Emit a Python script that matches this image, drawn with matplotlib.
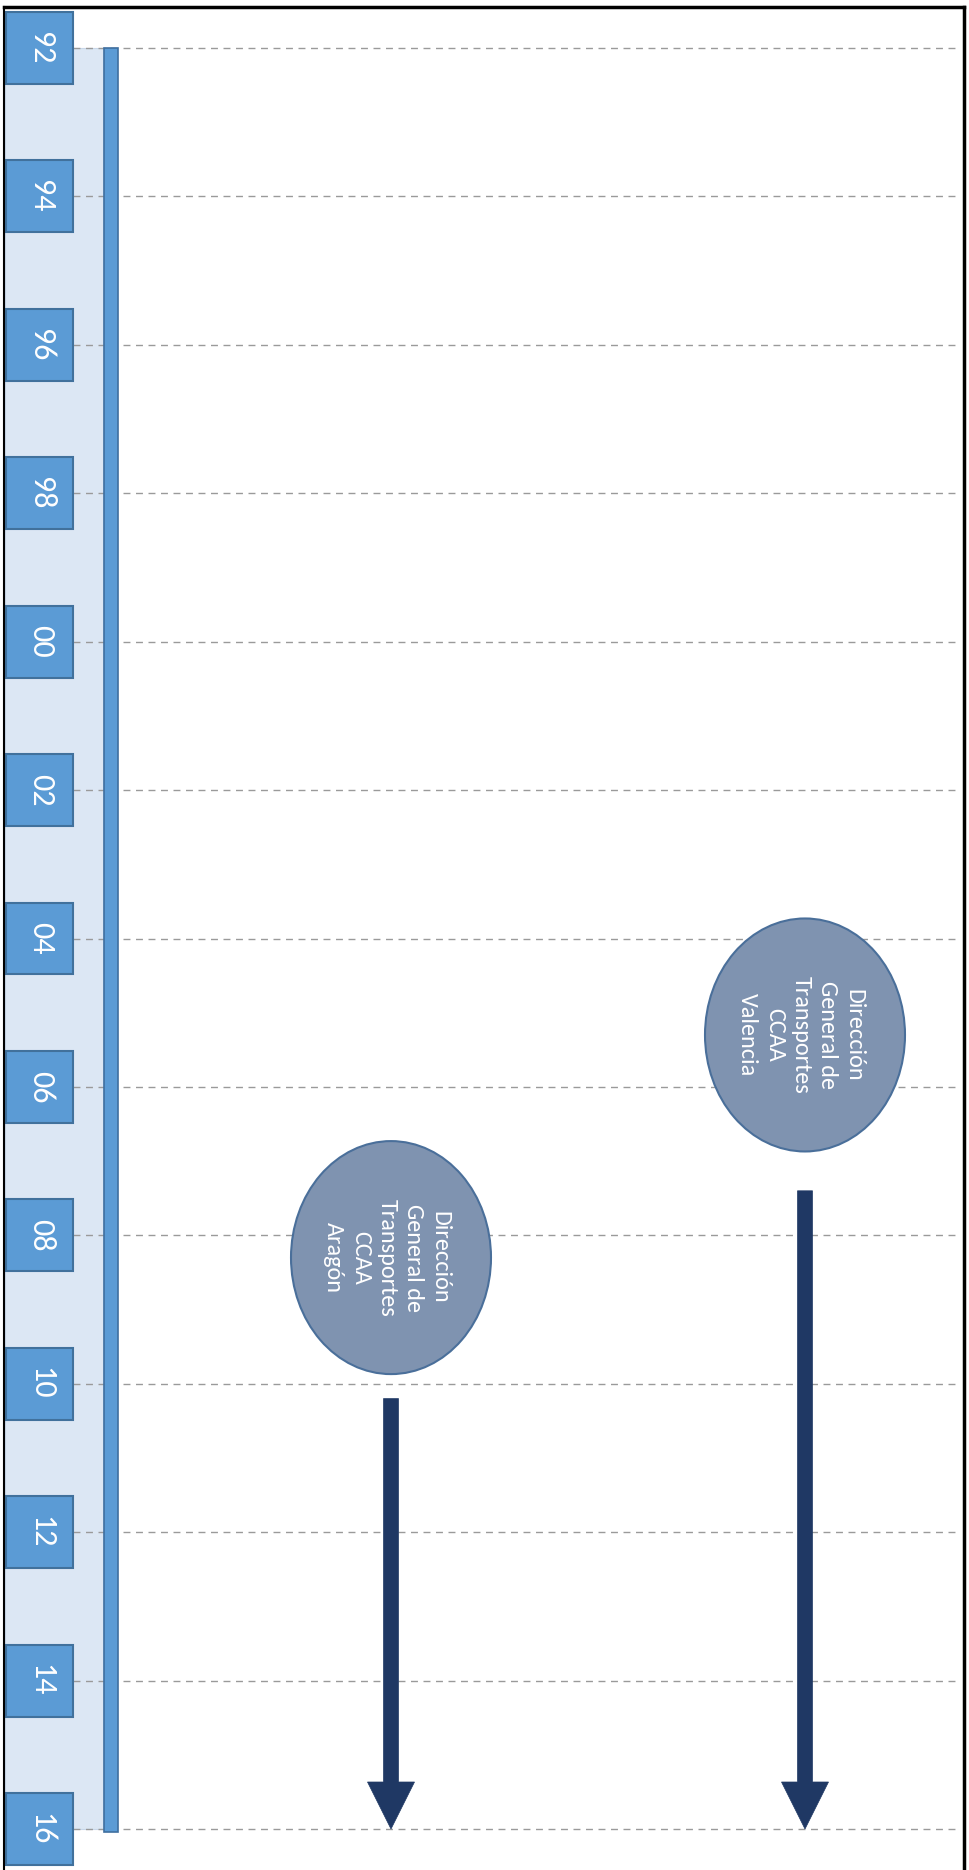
import matplotlib
matplotlib.use("Agg")
import matplotlib.pyplot as plt
from matplotlib.patches import Rectangle, Ellipse, FancyArrow

# ---- data ----
years = [1992, 1994, 1996, 1998, 2000, 2002, 2004, 2006, 2008, 2010, 2012, 2014, 2016]
year_labels = ["92", "94", "96", "98", "00", "02", "04", "06", "08", "10", "12", "14", "16"]
entities = ["Dirección\nGeneral de\nTransportes\nCCAA\nAragón",
            "Dirección\nGeneral de\nTransportes\nCCAA\nValencia"]
entity_year = [2008.3, 2005.3]        # centre of the ellipse (year)
arrow_start = [2010.2, 2007.4]        # start of the continuing arrow (year)
arrow_end = [2016.0, 2016.0]

# ---- layout ----
W, H = 969, 1870
fig = plt.figure(figsize=(W / 100, H / 100), dpi=100)
ax = fig.add_axes([0, 0, 1, 1])
px_per_year = (1829 - 48) / 24.0
y_top = 1992 - 48 / px_per_year
y_bot = 2016 + (H - 1829) / px_per_year
ax.set_xlim(0, W)
ax.set_ylim(y_bot, y_top)
ax.axis("off")

def yl(px):
    return px / px_per_year

box_fill = "#5B9BD5"
box_edge = "#41719C"
light_bar = "#DCE7F4"
fam = ["Carlito", "Liberation Sans Narrow", "Open Sans", "DejaVu Sans"]

# light timeline bar
ax.add_patch(Rectangle((5, years[0]), 99, years[-1] - years[0],
                       facecolor=light_bar, edgecolor="#C9D8EA", lw=0.8, zorder=1))
# gridlines
for y in years:
    ax.plot([73, 960], [y, y], color="#9A9A9A", lw=1.0,
            ls=(0, (5, 4)), zorder=2)
# darker strip
ax.add_patch(Rectangle((104, years[0]), 14, years[-1] - years[0] + yl(3),
                       facecolor=box_fill, edgecolor="#3F6FA0", lw=1.2, zorder=3))
# year boxes
for y, lab in zip(years, year_labels):
    ax.add_patch(Rectangle((6, y - yl(36)), 67, yl(72),
                           facecolor=box_fill, edgecolor=box_edge, lw=1.5, zorder=4))
    ax.text(41, y, lab, rotation=-90, ha="center", va="center",
            color="white", fontsize=23, family=fam, zorder=5)

# entities
xcols = [391, 805]
for xc, yc, name, s, e in zip(xcols, entity_year, entities, arrow_start, arrow_end):
    ax.add_patch(Ellipse((xc, yc), 200, yl(233), facecolor="#7F93B0",
                         edgecolor="#4A6F9A", lw=1.5, zorder=4))
    ax.text(xc - 4, yc, name, rotation=-90, ha="center", va="center",
            color="white", fontsize=17.5, family=fam, linespacing=1.33,
            multialignment="center", zorder=5)
    ax.add_patch(FancyArrow(xc, s, 0, e - s, width=15, head_width=47,
                            head_length=yl(47), length_includes_head=True,
                            facecolor="#1F3864", edgecolor="#1F3864", lw=0.5,
                            zorder=4))

# outer frame (left, top, right)
ax.plot([4, 4], [y_bot, yl(7) + y_top], color="black", lw=1.5, zorder=6)
ax.plot([4, 964], [y_top + yl(7), y_top + yl(7)], color="black", lw=2.5, zorder=6)
ax.plot([964, 964], [y_top + yl(7), y_bot], color="black", lw=2.5, zorder=6)

fig.savefig("out.png", dpi=100)
